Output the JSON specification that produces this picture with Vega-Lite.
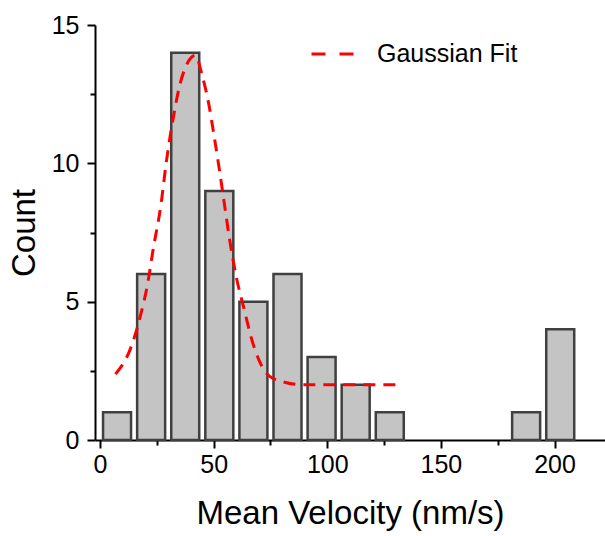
{
  "$schema": "https://vega.github.io/schema/vega-lite/v6.json",
  "autosize": "none",
  "width": 510,
  "height": 415,
  "padding": {"left": 95, "top": 25, "right": 0, "bottom": 96},
  "background": "white",
  "config": {
    "view": {"stroke": null},
    "font": "Liberation Sans",
    "axis": {
      "domainColor": "black", "domainWidth": 2,
      "tickColor": "black", "tickWidth": 2,
      "labelColor": "black", "titleColor": "black",
      "labelFont": "Liberation Sans", "titleFont": "Liberation Sans",
      "labelFontSize": 25, "titleFontSize": 33, "titleFontWeight": "normal",
      "grid": false
    }
  },
  "datasets": {
    "bars": [
      {"velocity": 7.5, "count": 1},
      {"velocity": 22.5, "count": 6},
      {"velocity": 37.5, "count": 14},
      {"velocity": 52.5, "count": 9},
      {"velocity": 67.5, "count": 5},
      {"velocity": 82.5, "count": 6},
      {"velocity": 97.5, "count": 3},
      {"velocity": 112.5, "count": 2},
      {"velocity": 127.5, "count": 1},
      {"velocity": 187.5, "count": 1},
      {"velocity": 202.5, "count": 4}
    ],
    "fit": [
      {"velocity": 6.8, "count": 2.38},
      {"velocity": 13.9, "count": 3.41},
      {"velocity": 17.6, "count": 4.43},
      {"velocity": 21.2, "count": 5.76},
      {"velocity": 23.3, "count": 6.85},
      {"velocity": 26.9, "count": 8.55},
      {"velocity": 29.1, "count": 10.0},
      {"velocity": 32.7, "count": 11.86},
      {"velocity": 34.9, "count": 12.76},
      {"velocity": 37.7, "count": 13.49},
      {"velocity": 42.0, "count": 13.9},
      {"velocity": 44.9, "count": 13.19},
      {"velocity": 47.8, "count": 12.17},
      {"velocity": 50.0, "count": 11.09},
      {"velocity": 52.1, "count": 10.0},
      {"velocity": 54.3, "count": 8.78},
      {"velocity": 57.1, "count": 7.21},
      {"velocity": 60.0, "count": 5.88},
      {"velocity": 63.6, "count": 4.67},
      {"velocity": 66.5, "count": 3.71},
      {"velocity": 70.1, "count": 2.86},
      {"velocity": 74.4, "count": 2.32},
      {"velocity": 81.6, "count": 2.08},
      {"velocity": 88.9, "count": 2.0},
      {"velocity": 100.0, "count": 2.0},
      {"velocity": 115.0, "count": 2.0},
      {"velocity": 130.6, "count": 2.0}
    ]
  },
  "encoding": {
    "x": {
      "field": "velocity", "type": "quantitative",
      "scale": {"domain": [0, 220], "nice": false, "zero": false},
      "axis": {
        "title": "Mean Velocity (nm/s)",
        "values": [0, 25, 50, 75, 100, 125, 150, 175, 200],
        "labelExpr": "datum.value % 50 === 0 ? datum.label : ''",
        "tickSize": {"condition": {"test": "datum.value % 50 === 0", "value": 8}, "value": 5},
        "labelPadding": 4, "titlePadding": 20
      }
    },
    "y": {
      "field": "count", "type": "quantitative",
      "scale": {"domain": [0, 15], "nice": false},
      "axis": {
        "title": "Count",
        "values": [0, 2.5, 5, 7.5, 10, 12.5, 15],
        "labelExpr": "datum.value % 5 === 0 ? datum.label : ''",
        "tickSize": {"condition": {"test": "datum.value % 5 === 0", "value": 8}, "value": 5},
        "labelPadding": 8, "titlePadding": 10
      }
    }
  },
  "layer": [
    {
      "data": {"name": "bars"},
      "mark": {"type": "bar", "size": 28, "fill": "#c4c4c4", "stroke": "#404040", "strokeWidth": 2.5}
    },
    {
      "data": {"name": "fit"},
      "mark": {"type": "line", "strokeWidth": 3, "strokeDash": [12, 8], "interpolate": "monotone"},
      "encoding": {
        "stroke": {
          "datum": "Gaussian Fit",
          "scale": {"range": ["#ff0000"]},
          "legend": {
            "title": null,
            "orient": "none",
            "legendX": 215,
            "legendY": 6,
            "symbolType": "stroke",
            "symbolSize": 1849,
            "symbolStrokeWidth": 3,
            "symbolDash": [14, 14],
            "labelFont": "Liberation Sans",
            "labelFontSize": 25,
            "labelColor": "black",
            "labelOffset": 21
          }
        }
      }
    }
  ]
}
